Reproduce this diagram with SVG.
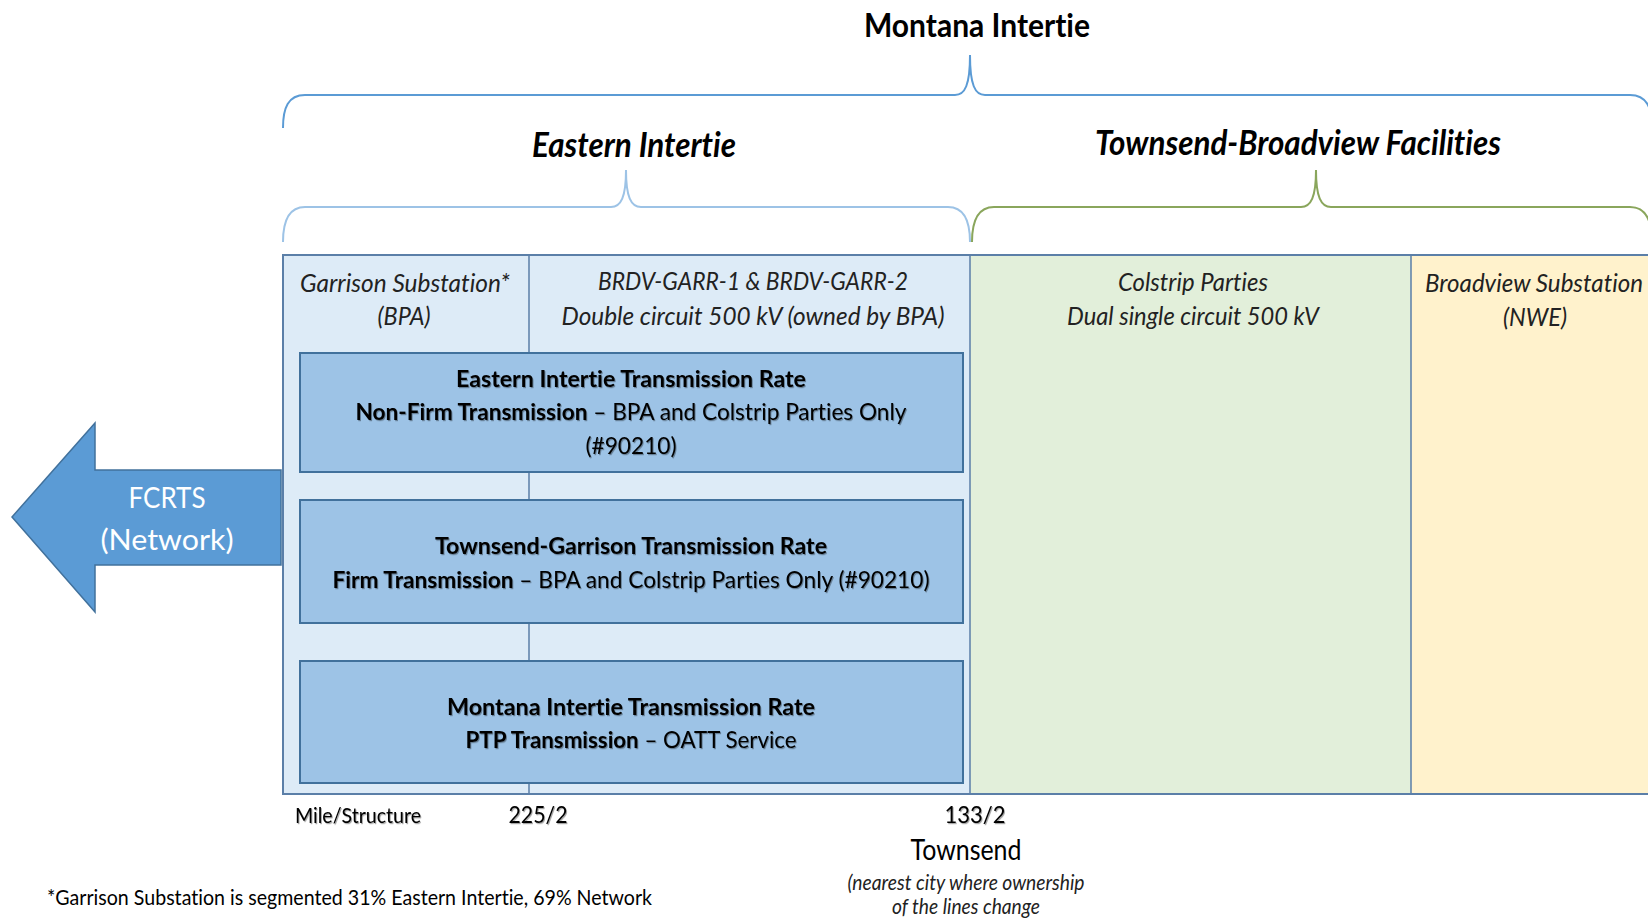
<svg xmlns="http://www.w3.org/2000/svg" width="1648" height="919" viewBox="0 0 1648 919">
<defs>
<style>
text{font-family:Lato,"Open Sans","Liberation Sans",sans-serif;fill:#000;font-variant-ligatures:none}
.t{font-weight:bold}
.bi{font-weight:bold;font-style:italic}
.it{font-style:italic;fill:#222}
.bx{font-size:23px}
.b{font-weight:bold}
.box{fill:#9DC3E6;stroke:#41719C;stroke-width:2}
.div{stroke:#5B7FA8;stroke-width:1.5;fill:none}
.brace{fill:none;stroke-width:2}
</style>
<filter id="sh" x="-5%" y="-20%" width="110%" height="150%">
<feDropShadow dx="1" dy="1.2" stdDeviation="0.6" flood-color="#000" flood-opacity="0.35"/>
</filter>
</defs>
<rect width="1648" height="919" fill="#fff"/>

<g id="braces">
<path class="brace" stroke="#5B9BD5" d="M283,128 C283,108 288,95 305,95 L955,95 C965,95 970,85 970,55 C970,85 975,95 985,95 L1630,95 C1647,95 1652,108 1652,128"/>
<path class="brace" stroke="#9DC3E6" d="M283,242 C283,222 288,207 305,207 L611,207 C621,207 626,197 626,170 C626,197 631,207 641,207 L948,207 C965,207 970,222 970,242"/>
<path class="brace" stroke="#8AA65C" d="M972,242 C972,222 977,207 994,207 L1301,207 C1311,207 1316,197 1316,170 C1316,197 1321,207 1331,207 L1630,207 C1647,207 1652,222 1652,242"/>
</g>

<g id="titles">
<text class="t" x="977" y="37" font-size="32" text-anchor="middle" textLength="226" lengthAdjust="spacingAndGlyphs">Montana Intertie</text>
<text class="bi" x="634" y="157" font-size="34" text-anchor="middle" textLength="204" lengthAdjust="spacingAndGlyphs">Eastern Intertie</text>
<text class="bi" x="1298" y="155" font-size="34" text-anchor="middle" textLength="406" lengthAdjust="spacingAndGlyphs">Townsend-Broadview Facilities</text>
</g>

<g id="table">
<rect x="283" y="255" width="687" height="539" fill="#DDEBF7"/>
<rect x="970" y="255" width="441" height="539" fill="#E2EFDA"/>
<rect x="1411" y="255" width="240" height="539" fill="#FFF2CC"/>
<path class="div" d="M529,255 V794 M970,255 V794 M1411,255 V794"/>
<path d="M1652,255 H283 V794 H1652" fill="none" stroke="#5B7FA8" stroke-width="2"/>
</g>

<g id="garrison">
<text class="it" x="405" y="292" font-size="25" text-anchor="middle" textLength="210" lengthAdjust="spacingAndGlyphs">Garrison Substation*</text>
<text class="it" x="404" y="325" font-size="25" text-anchor="middle" textLength="53" lengthAdjust="spacingAndGlyphs">(BPA)</text>
</g>
<g id="brdv">
<text class="it" x="753" y="290" font-size="25" text-anchor="middle" textLength="310" lengthAdjust="spacingAndGlyphs">BRDV-GARR-1 &amp; BRDV-GARR-2</text>
<text class="it" x="753" y="325" font-size="25" text-anchor="middle" textLength="383" lengthAdjust="spacingAndGlyphs">Double circuit 500 kV (owned by BPA)</text>
</g>
<g id="colstrip">
<text class="it" x="1193" y="291" font-size="25" text-anchor="middle" textLength="150" lengthAdjust="spacingAndGlyphs">Colstrip Parties</text>
<text class="it" x="1193" y="325" font-size="25" text-anchor="middle" textLength="252" lengthAdjust="spacingAndGlyphs">Dual single circuit 500 kV</text>
</g>
<g id="broadview">
<text class="it" x="1534" y="292" font-size="25" text-anchor="middle" textLength="218" lengthAdjust="spacingAndGlyphs">Broadview Substation</text>
<text class="it" x="1535" y="326" font-size="25" text-anchor="middle" textLength="64" lengthAdjust="spacingAndGlyphs">(NWE)</text>
</g>

<g id="rate-eastern">
<rect class="box" x="300" y="353" width="663" height="119"/>
<g filter="url(#sh)">
<text class="bx b" x="631" y="387" text-anchor="middle" textLength="350" lengthAdjust="spacingAndGlyphs">Eastern Intertie Transmission Rate</text>
<text class="bx" x="631" y="420" text-anchor="middle" textLength="551" lengthAdjust="spacingAndGlyphs"><tspan class="b">Non-Firm Transmission</tspan> – BPA and Colstrip Parties Only</text>
<text class="bx" x="631" y="454" text-anchor="middle" textLength="91" lengthAdjust="spacingAndGlyphs">(#90210)</text>
</g>
</g>

<g id="rate-townsend">
<rect class="box" x="300" y="500" width="663" height="123"/>
<g filter="url(#sh)">
<text class="bx b" x="631" y="554" text-anchor="middle" textLength="392" lengthAdjust="spacingAndGlyphs">Townsend-Garrison Transmission Rate</text>
<text class="bx" x="631" y="588" text-anchor="middle" textLength="597" lengthAdjust="spacingAndGlyphs"><tspan class="b">Firm Transmission</tspan> – BPA and Colstrip Parties Only (#90210)</text>
</g>
</g>

<g id="rate-montana">
<rect class="box" x="300" y="661" width="663" height="122"/>
<g filter="url(#sh)">
<text class="bx b" x="631" y="715" text-anchor="middle" textLength="368" lengthAdjust="spacingAndGlyphs">Montana Intertie Transmission Rate</text>
<text class="bx" x="631" y="748" text-anchor="middle" textLength="331" lengthAdjust="spacingAndGlyphs"><tspan class="b">PTP Transmission</tspan> – OATT Service</text>
</g>
</g>

<g id="fcrts">
<polygon points="12,517 95,423 95,470 281,470 281,565 95,565 95,612" fill="#5B9BD5" stroke="#41719C" stroke-width="1.5"/>
<text x="167" y="508" font-size="29" text-anchor="middle" style="fill:#fff" textLength="77" lengthAdjust="spacingAndGlyphs">FCRTS</text>
<text x="167" y="550" font-size="29" text-anchor="middle" style="fill:#fff" textLength="133" lengthAdjust="spacingAndGlyphs">(Network)</text>
</g>

<g id="mileposts" filter="url(#sh)">
<text x="358" y="823" font-size="22" text-anchor="middle" textLength="126" lengthAdjust="spacingAndGlyphs">Mile/Structure</text>
<text x="538" y="823" font-size="24" text-anchor="middle" textLength="59" lengthAdjust="spacingAndGlyphs">225/2</text>
<text x="975" y="823" font-size="24" text-anchor="middle" textLength="61" lengthAdjust="spacingAndGlyphs">133/2</text>
</g>

<g id="townsend">
<text x="966" y="860" font-size="28" text-anchor="middle" textLength="111" lengthAdjust="spacingAndGlyphs">Townsend</text>
<text class="it" x="966" y="890" font-size="21" text-anchor="middle" textLength="237" lengthAdjust="spacingAndGlyphs">(nearest city where ownership</text>
<text class="it" x="966" y="914" font-size="21" text-anchor="middle" textLength="148" lengthAdjust="spacingAndGlyphs">of the lines change</text>
</g>

<g id="footnote">
<text x="47" y="905" font-size="21" textLength="605" lengthAdjust="spacingAndGlyphs">*Garrison Substation is segmented 31% Eastern Intertie, 69% Network</text>
</g>
</svg>
